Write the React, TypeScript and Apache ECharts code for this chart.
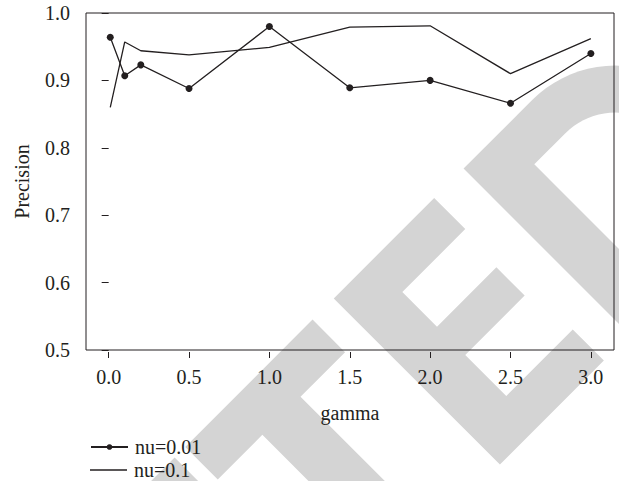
import React, { useEffect, useRef } from 'react';
import * as echarts from 'echarts';

const gammaValues = [0.01, 0.1, 0.2, 0.5, 1.0, 1.5, 2.0, 2.5, 3.0];
const nu001 = [0.964, 0.907, 0.923, 0.888, 0.98, 0.889, 0.9, 0.866, 0.94];
const nu01 = [0.86, 0.957, 0.944, 0.938, 0.949, 0.979, 0.981, 0.91, 0.962];
const xTickValues = [0, 0.5, 1, 1.5, 2, 2.5, 3];
const seriesNames = ['nu=0.01', 'nu=0.1'];

const INK = '#231f20';
const FONT = '"Liberation Serif", "DejaVu Serif", serif';
const WM = '#d4d4d4';

// watermark helpers: letter frame (u along text, v down the letter) -> screen, rotated 45deg
const S2 = Math.SQRT2;
const toScreen = (u: number, v: number) => [(u + v) / S2, (v - u) / S2];
const poly = (pts: number[][]) => pts.map(([u, v]) => toScreen(u, v));
const arcPts = (cu: number, cv: number, r: number, a0: number, a1: number, n = 40) => {
  const out: number[][] = [];
  for (let i = 0; i <= n; i++) {
    const a = a0 + ((a1 - a0) * i) / n;
    out.push([cu + r * Math.cos(a), cv + r * Math.sin(a)]);
  }
  return out;
};

function watermark() {
  const top = 447;
  const bot = 682;
  const shapes: any[] = [];
  const add = (pts: number[][], fill: string, z: number) =>
    shapes.push({ type: 'polygon', silent: true, z, shape: { points: poly(pts) }, style: { fill } });
  // C (tip of top arm)
  add([[-420, top], [-200, top], [-200, 492], [-420, 492]], WM, -10);
  // T
  add([[-185, top], [-5, top], [-5, 493], [-68, 493], [-68, bot], [-122, bot], [-122, 493], [-185, 493]], WM, -10);
  // E
  add([[25, top], [167, top], [167, 491], [78, 491], [78, 540], [162, 540], [162, 580], [78, 580], [78, 638], [172, 638], [172, bot], [25, bot]], WM, -10);
  // D outer
  const cu = 305.6;
  const cv = (top + bot) / 2;
  const R = (bot - top) / 2;
  add([[208.6, bot], [208.6, top], ...arcPts(cu, cv, R, -Math.PI / 2, Math.PI / 2)], WM, -10);
  // D counter
  const r = R - 47;
  add([[261.6, cv + r], [261.6, cv - r], ...arcPts(cu, cv, r, -Math.PI / 2, Math.PI / 2)], '#ffffff', -9);
  return shapes;
}

const legendText = { fontFamily: FONT, fontSize: 20, color: INK, lineHeight: 20, padding: [0, 0, 0, 2] };

export default function App() {
  const ref = useRef<HTMLDivElement>(null);
  useEffect(() => {
    const chart = echarts.init(ref.current!, null, { renderer: 'svg' });
    const option: any = {
      animation: false,
      backgroundColor: '#ffffff',
      textStyle: { fontFamily: FONT, color: INK },
      graphic: watermark(),
      grid: {
        left: 86,
        top: 13,
        right: 5,
        bottom: 131,
        show: true,
        borderColor: INK,
        borderWidth: 1,
        backgroundColor: 'transparent',
      },
      legend: [
        {
          orient: 'vertical',
          left: 85,
          top: 432,
          itemWidth: 37,
          itemHeight: 7,
          data: [seriesNames[0]],
          textStyle: legendText,
        },
        {
          orient: 'vertical',
          left: 85,
          top: 455,
          itemWidth: 37,
          itemHeight: 1.3,
          data: [{ name: seriesNames[1], icon: 'rect' }],
          textStyle: legendText,
        },
      ],
      xAxis: {
        type: 'value',
        min: -0.141,
        max: 3.144,
        offset: 2,
        name: 'gamma',
        nameLocation: 'middle',
        nameGap: 51,
        nameTextStyle: { fontFamily: FONT, fontSize: 20, color: INK },
        axisLine: { show: false },
        axisTick: { show: true, length: 6, customValues: xTickValues, lineStyle: { color: INK, width: 1 } },
        axisLabel: {
          customValues: xTickValues,
          margin: 15,
          fontFamily: FONT,
          fontSize: 20,
          color: INK,
          formatter: (v: number) => v.toFixed(1),
        },
        splitLine: { show: false },
      },
      yAxis: {
        type: 'value',
        min: 0.5,
        max: 1.0,
        interval: 0.1,
        name: 'Precision',
        nameLocation: 'middle',
        nameGap: 54,
        nameTextStyle: { fontFamily: FONT, fontSize: 20, color: INK },
        axisLine: { show: false },
        axisTick: { show: true, length: 7, lineStyle: { color: INK, width: 1 } },
        axisLabel: {
          margin: 16,
          fontFamily: FONT,
          fontSize: 20,
          color: INK,
          formatter: (v: number) => v.toFixed(1),
        },
        splitLine: { show: false },
      },
      series: [
        {
          name: seriesNames[0],
          type: 'line',
          data: gammaValues.map((g, i) => [g, nu001[i]]),
          symbol: 'circle',
          symbolSize: 7,
          showSymbol: true,
          color: INK,
          itemStyle: { color: INK },
          lineStyle: { color: INK, width: 1.3 },
          z: 3,
        },
        {
          name: seriesNames[1],
          type: 'line',
          data: gammaValues.map((g, i) => [g, nu01[i]]),
          symbol: 'none',
          color: INK,
          itemStyle: { color: INK },
          lineStyle: { color: INK, width: 1.3 },
          z: 3,
        },
      ],
    };
    chart.setOption(option);
    return () => chart.dispose();
  }, []);
  return <div ref={ref} style={{ position: 'fixed', left: 0, top: 0, width: 619, height: 481 }} />;
}
